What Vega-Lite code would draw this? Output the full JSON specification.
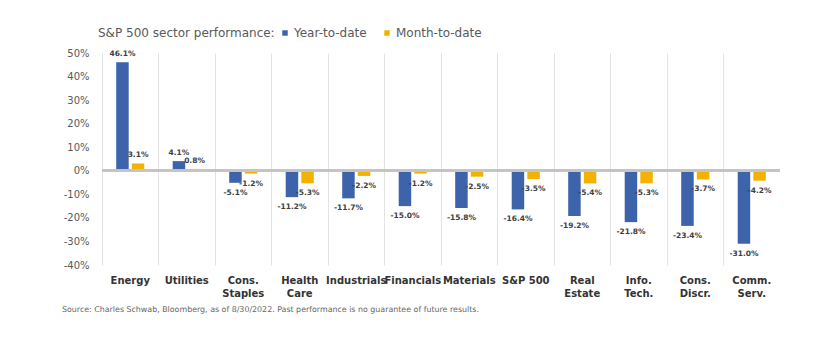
{
  "$schema": "https://vega.github.io/schema/vega-lite/v6.json",
  "autosize": {"type": "none"},
  "width": 678,
  "height": 212,
  "padding": {"left": 102, "top": 53, "right": 50, "bottom": 88},
  "background": "white",
  "config": {
    "font": "DejaVu Sans",
    "view": {"stroke": null},
    "locale": {"number": {"decimal": ".", "thousands": ",", "grouping": [3], "currency": ["$", ""], "minus": "-"}}
  },
  "title": {
    "text": "Source: Charles Schwab, Bloomberg, as of 8/30/2022. Past performance is no guarantee of future results.",
    "orient": "bottom",
    "anchor": "start",
    "frame": "group",
    "dx": -40,
    "offset": 8,
    "fontSize": 7.9,
    "fontWeight": "normal",
    "color": "#666666"
  },
  "data": {
    "values": [
      {"sector": "Energy", "series": "Year-to-date", "value": 0.461},
      {"sector": "Energy", "series": "Month-to-date", "value": 0.031},
      {"sector": "Utilities", "series": "Year-to-date", "value": 0.041},
      {"sector": "Utilities", "series": "Month-to-date", "value": 0.008},
      {"sector": "Cons. Staples", "series": "Year-to-date", "value": -0.051},
      {"sector": "Cons. Staples", "series": "Month-to-date", "value": -0.012},
      {"sector": "Health Care", "series": "Year-to-date", "value": -0.112},
      {"sector": "Health Care", "series": "Month-to-date", "value": -0.053},
      {"sector": "Industrials", "series": "Year-to-date", "value": -0.117},
      {"sector": "Industrials", "series": "Month-to-date", "value": -0.022},
      {"sector": "Financials", "series": "Year-to-date", "value": -0.150},
      {"sector": "Financials", "series": "Month-to-date", "value": -0.012},
      {"sector": "Materials", "series": "Year-to-date", "value": -0.158},
      {"sector": "Materials", "series": "Month-to-date", "value": -0.025},
      {"sector": "S&P 500", "series": "Year-to-date", "value": -0.164},
      {"sector": "S&P 500", "series": "Month-to-date", "value": -0.035},
      {"sector": "Real Estate", "series": "Year-to-date", "value": -0.192},
      {"sector": "Real Estate", "series": "Month-to-date", "value": -0.054},
      {"sector": "Info. Tech.", "series": "Year-to-date", "value": -0.218},
      {"sector": "Info. Tech.", "series": "Month-to-date", "value": -0.053},
      {"sector": "Cons. Discr.", "series": "Year-to-date", "value": -0.234},
      {"sector": "Cons. Discr.", "series": "Month-to-date", "value": -0.037},
      {"sector": "Comm. Serv.", "series": "Year-to-date", "value": -0.310},
      {"sector": "Comm. Serv.", "series": "Month-to-date", "value": -0.042}
    ]
  },
  "encoding": {
    "x": {
      "field": "sector",
      "type": "nominal",
      "sort": null,
      "scale": {"paddingInner": 0, "paddingOuter": 0},
      "axis": {
        "title": null,
        "labelAngle": 0,
        "labelFontWeight": "bold",
        "labelFontSize": 10,
        "labelColor": "#333333",
        "labelPadding": 10,
        "labelLineHeight": 13,
        "labelBaseline": "top",
        "labelExpr": "datum.label == 'S&P 500' ? datum.label : split(datum.label, ' ')",
        "grid": true,
        "gridColor": "#e3e3e3",
        "gridWidth": 1,
        "bandPosition": 0,
        "domain": false,
        "ticks": false
      }
    },
    "xOffset": {
      "field": "series",
      "type": "nominal",
      "sort": ["Year-to-date", "Month-to-date"],
      "scale": {"paddingInner": 0.2, "paddingOuter": 0.91}
    },
    "y": {
      "field": "value",
      "type": "quantitative",
      "scale": {"domain": [-0.4, 0.5], "nice": false},
      "axis": {
        "title": null,
        "format": ".0%",
        "values": [-0.4, -0.3, -0.2, -0.1, 0, 0.1, 0.2, 0.3, 0.4, 0.5],
        "grid": false,
        "domain": false,
        "ticks": false,
        "labelPadding": 13,
        "labelFontSize": 10,
        "labelColor": "#595959"
      }
    }
  },
  "layer": [
    {
      "mark": {"type": "bar"},
      "encoding": {
        "color": {
          "field": "series",
          "type": "nominal",
          "sort": ["Year-to-date", "Month-to-date"],
          "scale": {"domain": ["Year-to-date", "Month-to-date"], "range": ["#3D64AA", "#F3B200"]},
          "legend": {
            "orient": "none",
            "legendX": -4,
            "legendY": -26,
            "direction": "horizontal",
            "title": "S&P 500 sector performance:",
            "titleOrient": "left",
            "titleFontSize": 12,
            "titleFontWeight": "normal",
            "titleColor": "#595959",
            "titlePadding": 4,
            "labelFontSize": 12,
            "labelColor": "#595959",
            "symbolType": "square",
            "symbolSize": 30,
            "symbolStrokeWidth": 0,
            "labelOffset": 3,
            "columnPadding": 14
          }
        }
      }
    },
    {
      "mark": {"type": "rule", "color": "#c4c4c4", "strokeWidth": 2},
      "encoding": {"x": null, "xOffset": null, "y": {"datum": 0}}
    },
    {
      "transform": [{"filter": "datum.value >= 0"}],
      "mark": {"type": "text", "baseline": "bottom", "dy": -4, "fontSize": 7.5, "fontWeight": "bold", "color": "#404040"},
      "encoding": {"text": {"field": "value", "type": "quantitative", "format": ".1%"}}
    },
    {
      "transform": [{"filter": "datum.value < 0"}],
      "mark": {"type": "text", "baseline": "top", "dy": 6, "fontSize": 7.5, "fontWeight": "bold", "color": "#404040"},
      "encoding": {"text": {"field": "value", "type": "quantitative", "format": ".1%"}}
    }
  ]
}
